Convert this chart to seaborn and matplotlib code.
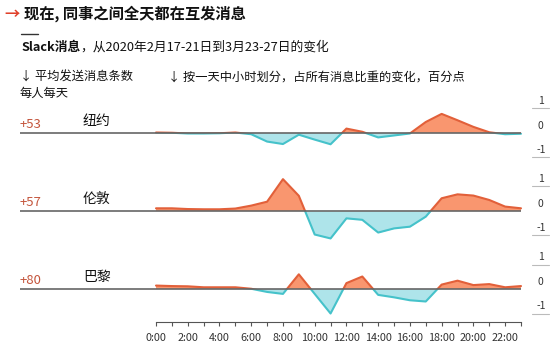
import numpy as np
import pandas as pd
import seaborn as sns
from matplotlib import pyplot as plt
from matplotlib.patches import Rectangle

sns.set_theme(style="white")
plt.rcParams['font.family'] = ['Noto Sans CJK SC', 'DejaVu Sans']

# data
hours = list(range(24))
cities = ["纽约", "伦敦", "巴黎"]
msg_change = ["+53", "+57", "+80"]
new_york = [0.02, 0.01, -0.02, -0.02, -0.01, 0.02, -0.05, -0.35, -0.45, -0.07, -0.27, -0.46,
            0.18, 0.05, -0.18, -0.10, -0.02, 0.45, 0.78, 0.52, 0.25, 0.03, -0.05, -0.03]
london = [0.11, 0.11, 0.08, 0.07, 0.07, 0.10, 0.22, 0.38, 1.30, 0.62, -0.96, -1.12,
          -0.30, -0.36, -0.88, -0.71, -0.64, -0.23, 0.52, 0.68, 0.63, 0.45, 0.18, 0.11]
paris = [0.14, 0.12, 0.11, 0.07, 0.07, 0.07, 0.01, -0.12, -0.20, 0.60, -0.20, -1.00,
         0.24, 0.51, -0.24, -0.34, -0.46, -0.51, 0.18, 0.34, 0.16, 0.20, 0.07, 0.12]
series = [new_york, london, paris]
hour_labels = [f"{h}:00" for h in range(0, 24, 2)]
ytick_vals = [1, 0, -1]

POS_FILL, POS_LINE = "#F9966F", "#E2603A"
NEG_FILL, NEG_LINE = "#AEE4EA", "#45C2CA"
NUM_COLOR = "#C4553C"

W, H = 554, 352
fig = plt.figure(figsize=(W / 100, H / 100), dpi=100)

def fx(px):
    return px / W

def fy(py):
    return 1 - py / H

# layout in pixels
left_px, right_px = 20, 521
zeros_px = [133, 211, 289]
unit_px = 24.5
ylim = 1.35
x_lo = -8.57

axes = []
for i, (city, vals) in enumerate(zip(cities, series)):
    half = ylim * unit_px
    ax = fig.add_axes([fx(left_px), fy(zeros_px[i] + half), fx(right_px - left_px), 2 * half / H])
    ax.patch.set_alpha(0)
    vals = np.array(vals)
    df = pd.DataFrame({"hour": hours, "value": vals})

    ax.fill_between(hours, vals, 0, where=vals >= 0, interpolate=True, color=POS_FILL, lw=0)
    ax.fill_between(hours, vals, 0, where=vals <= 0, interpolate=True, color=NEG_FILL, lw=0)

    # same line drawn twice, clipped above / below zero
    sns.lineplot(data=df, x="hour", y="value", ax=ax, color=POS_LINE, lw=1.5)
    ax.lines[-1].set_clip_path(Rectangle((x_lo, 0), 40, 5, transform=ax.transData))
    sns.lineplot(data=df, x="hour", y="value", ax=ax, color=NEG_LINE, lw=1.5)
    ax.lines[-1].set_clip_path(Rectangle((x_lo, -5), 40, 5, transform=ax.transData))

    ax.axhline(0, color="#666666", lw=1.2, zorder=5)
    ax.set_xlim(x_lo, 23)
    ax.set_ylim(-ylim, ylim)
    ax.set_xlabel("")
    ax.set_ylabel("")
    ax.set_yticks([])
    for s in ax.spines.values():
        s.set_visible(False)

    # right-hand scale labels
    for v in ytick_vals:
        ax.text(24.25, v + 0.1, str(v), ha="center", va="bottom", fontsize=7.5, color="#333333",
                clip_on=False)
        if v != 0:
            ax.plot([23.7, 24.75], [v, v], color="#BBBBBB", lw=0.8, clip_on=False)

    ax.text(x_lo, 0.36, msg_change[i], ha="left", va="center", fontsize=9.5, color=NUM_COLOR)
    ax.text(-4.6, 0.48, city, ha="left", va="center", fontsize=10, color="#111111")

    if i < 2:
        ax.set_xticks([])
    axes.append(ax)

bx = axes[-1]
bx.spines["bottom"].set_visible(True)
bx.spines["bottom"].set_bounds(0, 23)
bx.spines["bottom"].set_color("#555555")
bx.spines["bottom"].set_linewidth(0.8)
bx.set_xticks(hours)
bx.set_xticklabels([hour_labels[h // 2] if h % 2 == 0 else "" for h in hours])
bx.tick_params(axis="x", direction="out", length=3, width=0.8, color="#555555",
               labelsize=7.8, labelcolor="#333333", pad=5, bottom=True)

# header texts
fig.text(fx(4), fy(14), "→", color="#E0402A", fontsize=11, fontweight="bold", va="center")
fig.text(fx(24), fy(14), "现在, 同事之间全天都在互发消息", color="#111111", fontsize=11,
         fontweight="bold", va="center")
fig.add_artist(plt.Line2D([fx(21), fx(38)], [fy(34), fy(34)], color="#333333", lw=1))
t = fig.text(fx(21), fy(47), "Slack消息", color="#111111", fontsize=9.2, fontweight="bold",
             va="center")
renderer = fig.canvas.get_renderer()
bb = t.get_window_extent(renderer)
fig.text(bb.x1 / W, fy(47), "，从2020年2月17-21日到3月23-27日的变化", color="#111111",
         fontsize=9.2, va="center")
fig.text(fx(20), fy(77), "↓ 平均发送消息条数", color="#111111", fontsize=8.8, va="center")
fig.text(fx(20), fy(93), "每人每天", color="#111111", fontsize=8.8, va="center")
fig.text(fx(168), fy(77), "↓ 按一天中小时划分，占所有消息比重的变化，百分点", color="#111111",
         fontsize=8.8, va="center")

fig.savefig("out.png", dpi=100)
